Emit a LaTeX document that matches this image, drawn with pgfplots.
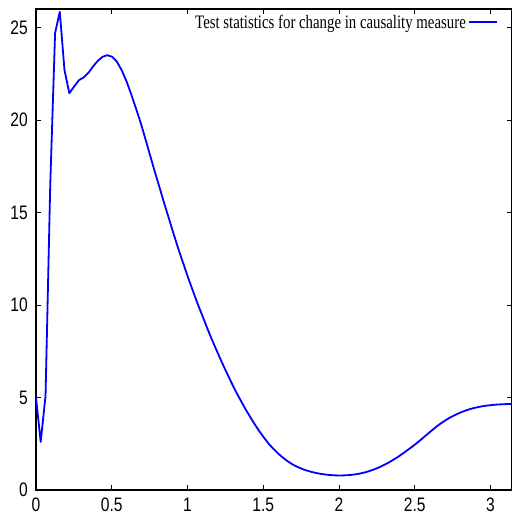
\documentclass[border=0pt]{standalone}
\usepackage{fontspec}
\usepackage{graphicx}
\usepackage{pgfplots}
\pgfplotsset{compat=1.18}
\newfontfamily\tickfont{Liberation Sans}
\newfontfamily\legfont{Liberation Serif}
\pgfplotstableread{
x y
0.000 5.0
0.031 2.6
0.063 5.1
0.094 16.5
0.126 24.7
0.157 25.85
0.188 22.7
0.220 21.45
0.251 21.8
0.283 22.15
0.314 22.3
0.346 22.55
0.377 22.9
0.408 23.2
0.440 23.42
0.471 23.5
0.503 23.42
0.534 23.15
0.565 22.7
0.597 22.1
0.628 21.4
0.660 20.62
0.691 19.85
0.723 18.95
0.754 18.06
0.785 17.18
0.817 16.31
0.848 15.45
0.880 14.60
0.911 13.77
0.942 12.97
0.974 12.20
1.005 11.45
1.037 10.73
1.068 10.04
1.100 9.38
1.131 8.73
1.162 8.11
1.194 7.51
1.225 6.93
1.257 6.37
1.288 5.835
1.319 5.325
1.351 4.84
1.382 4.38
1.414 3.945
1.445 3.535
1.476 3.15
1.508 2.795
1.539 2.47
1.571 2.19
1.602 1.94
1.634 1.72
1.665 1.53
1.696 1.37
1.728 1.24
1.759 1.13
1.791 1.04
1.822 0.97
1.854 0.91
1.885 0.865
1.916 0.83
1.948 0.805
1.979 0.79
2.011 0.785
2.042 0.793
2.073 0.811
2.105 0.841
2.136 0.886
2.168 0.946
2.199 1.021
2.231 1.111
2.262 1.216
2.293 1.336
2.325 1.471
2.356 1.621
2.388 1.784
2.419 1.959
2.450 2.144
2.482 2.337
2.513 2.535
2.545 2.75
2.576 2.97
2.608 3.19
2.639 3.40
2.670 3.59
2.702 3.765
2.733 3.92
2.765 4.05
2.796 4.17
2.827 4.27
2.859 4.36
2.890 4.43
2.922 4.49
2.953 4.535
2.985 4.57
3.016 4.60
3.047 4.62
3.079 4.635
3.110 4.645
3.142 4.65
}\curve
\begin{document}
\begin{tikzpicture}
\begin{axis}[
  scale only axis,
  width=476pt, height=481pt,
  xmin=0, xmax=3.14159, ymin=0, ymax=26,
  xtick={0,0.5,1,1.5,2,2.5,3},
  ytick={0,5,10,15,20,25},
  minor tick num=0,
  major tick length=5pt,
  every tick/.style={black, line width=0.8pt},
  axis line style={black, line width=1.5pt},
  /pgf/number format/assume math mode=true,
  ticklabel style={font=\tickfont\fontsize{19.5}{20}\selectfont, inner sep=0pt},
  xticklabel style={anchor=north, yshift=-8pt},
  yticklabel style={anchor=east, xshift=-8pt},
  xticklabel={\scalebox{0.8}[1]{\pgfmathprintnumber{\tick}}},
  yticklabel={\scalebox{0.8}[1]{\pgfmathprintnumber{\tick}}},
  legend plot pos=right,
  legend style={draw=none, fill=none, at={(axis description cs:0.971,0.992)}, anchor=north east,
    font=\legfont\fontsize{19}{20}\selectfont, inner sep=0pt},
  legend image code/.code={\draw[#1, line width=2.2pt] (7pt,0.5pt) -- (35pt,0.5pt);},
]
\addplot[color={rgb,255:red,0;green,0;blue,255}, line width=1.8pt, mark=none, line join=round] table[x=x, y=y] {\curve};
\addlegendentry{\scalebox{0.78}[1]{Test statistics for change in causality measure}}
\end{axis}
\pgfresetboundingbox
\useasboundingbox ([xshift=-36pt, yshift=-29pt]current axis.south west) rectangle ([xshift=475pt, yshift=490pt]current axis.south west);
\end{tikzpicture}
\end{document}
